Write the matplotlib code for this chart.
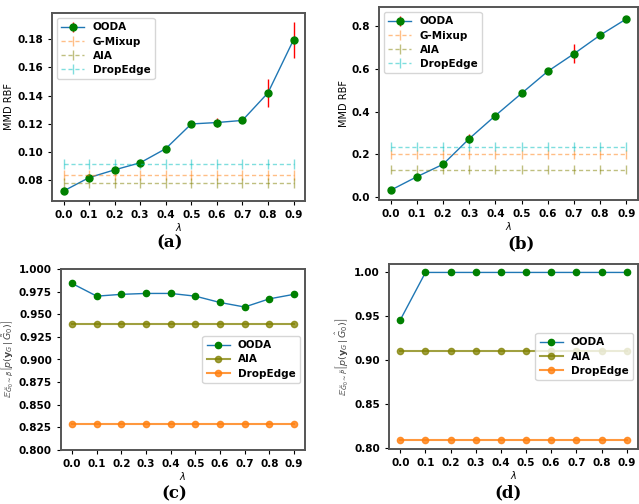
import numpy as np
import matplotlib as mpl
mpl.use('Agg')
from matplotlib import pyplot as plt

lam = [0.0, 0.1, 0.2, 0.3, 0.4, 0.5, 0.6, 0.7, 0.8, 0.9]

# (a) MMD RBF
ooda_a = [0.0725, 0.082, 0.0875, 0.0925, 0.1025, 0.120, 0.121, 0.1225, 0.142, 0.1795]
ooda_a_err = [0.001, 0.002, 0.001, 0.001, 0.002, 0.001, 0.003, 0.002, 0.010, 0.013]
gmix_a, aia_a, drop_a = 0.084, 0.078, 0.0915
base_a_err = 0.0035

# (b) MMD RBF
ooda_b = [0.032, 0.095, 0.153, 0.273, 0.381, 0.485, 0.588, 0.670, 0.757, 0.833]
ooda_b_err = [0.005, 0.005, 0.005, 0.02, 0.005, 0.005, 0.005, 0.045, 0.005, 0.015]
gmix_b, aia_b, drop_b = 0.200, 0.128, 0.235
base_b_err = 0.022

# (c) expected probability
ooda_c = [0.984, 0.970, 0.972, 0.973, 0.973, 0.970, 0.963, 0.958, 0.967, 0.972]
aia_c, drop_c = 0.939, 0.829

# (d) expected probability
ooda_d = [0.946, 1.0, 1.0, 1.0, 1.0, 1.0, 1.0, 1.0, 1.0, 1.0]
aia_d, drop_d = 0.911, 0.809

sz = 7.5
W, H = 639, 504
fig = plt.figure(figsize=(W/100, H/100), dpi=100)

def box(l, r, t, b):
    return [l/W, 1 - b/H, (r - l)/W, (b - t)/H]

def style(ax):
    for s in ax.spines.values():
        s.set_color('#555555')
        s.set_linewidth(1.4)
    ax.tick_params(labelsize=sz, length=3, width=0.8)
    ax.set_xticks(lam)
    for lb in ax.get_xticklabels():
        lb.set_fontweight('bold')
    ax.set_xlabel(r'$\lambda$', fontsize=7, labelpad=1)

def mmd_panel(ax, ooda, err, gm, aia, de, berr):
    n = len(lam)
    ax.errorbar(lam, ooda, yerr=err, color='C0', lw=1, marker='o', ms=5,
                mfc='green', mec='green', ecolor='red', elinewidth=1, label='OODA')
    ax.errorbar(lam, [gm]*n, yerr=[berr]*n, color='C1', ls='--', lw=1,
                dashes=(3, 2), alpha=0.5, label='G-Mixup')
    ax.errorbar(lam, [aia]*n, yerr=[berr]*n, color='olive', ls='--', lw=1,
                dashes=(3, 2), alpha=0.5, label='AIA')
    ax.errorbar(lam, [de]*n, yerr=[berr]*n, color='c', ls='--', lw=1,
                dashes=(3, 2), alpha=0.5, label='DropEdge')
    ax.set_ylabel('MMD RBF', fontsize=7, labelpad=2)
    ax.legend(loc='upper left', prop={'size': sz, 'weight': 'bold'},
              handlelength=2.2, borderpad=0.4, labelspacing=0.4)
    ax.set_xlim(-0.045, 0.945)
    style(ax)

def prob_panel(ax, ooda, aia, de):
    n = len(lam)
    ax.plot(lam, ooda, color='C0', lw=1, marker='o', ms=4.5,
            mfc='green', mec='green', label='OODA')
    ax.plot(lam, [aia]*n, color='olive', lw=1.5, marker='o', ms=4.5,
            alpha=0.75, label='AIA')
    ax.plot(lam, [de]*n, color='C1', lw=1.5, marker='o', ms=4.5,
            alpha=0.8, label='DropEdge')
    ax.legend(loc='center right', prop={'size': sz, 'weight': 'bold'},
              handlelength=2.2, borderpad=0.4, labelspacing=0.4)
    ax.set_xlim(-0.045, 0.945)
    style(ax)

ax1 = fig.add_axes(box(52, 305, 13, 201))
mmd_panel(ax1, ooda_a, ooda_a_err, gmix_a, aia_a, drop_a, base_a_err)
ax1.set_yticks([0.08, 0.10, 0.12, 0.14, 0.16, 0.18])
ax1.set_yticklabels(['0.08', '0.10', '0.12', '0.14', '0.16', '0.18'], fontweight='bold')

ax2 = fig.add_axes(box(379, 638, 7, 200))
mmd_panel(ax2, ooda_b, ooda_b_err, gmix_b, aia_b, drop_b, base_b_err)
ax2.set_yticks([0.0, 0.2, 0.4, 0.6, 0.8])
ax2.set_yticklabels(['0.0', '0.2', '0.4', '0.6', '0.8'], fontweight='bold')

ax3 = fig.add_axes(box(61, 305, 269, 450))
prob_panel(ax3, ooda_c, aia_c, drop_c)
ax3.set_ylim(0.8, 1.0)
yt = [0.8, 0.825, 0.85, 0.875, 0.9, 0.925, 0.95, 0.975, 1.0]
ax3.set_yticks(yt)
ax3.set_yticklabels(['%.3f' % v for v in yt], fontweight='bold')
ax3.set_ylabel(r'$\mathbb{E}_{\tilde{G}_0\sim\beta}\left[p(\mathbf{y}_G\,|\,\tilde{G}_0)\right]$',
               fontsize=6.8, color='#444444', labelpad=2)

ax4 = fig.add_axes(box(389, 638, 264, 449))
prob_panel(ax4, ooda_d, aia_d, drop_d)
ax4.set_ylim(0.799, 1.0096)
yt = [0.80, 0.85, 0.90, 0.95, 1.00]
ax4.set_yticks(yt)
ax4.set_yticklabels(['%.2f' % v for v in yt], fontweight='bold')
ax4.set_ylabel(r'$\mathbb{E}_{\tilde{G}_0\sim\tilde{P}}\left[p(\mathbf{y}_G\,|\,\hat{G}_0)\right]$',
               fontsize=6.8, color='#444444', labelpad=2)

cap = dict(fontsize=12, fontweight='bold', family='DejaVu Serif', ha='center', va='center')
fig.text(170/W, 1 - 243/H, '(a)', **cap)
fig.text(521/W, 1 - 244/H, '(b)', **cap)
fig.text(174/W, 1 - 494/H, '(c)', **cap)
fig.text(508/W, 1 - 493/H, '(d)', **cap)

plt.savefig('out.png', dpi=100)
plt.close()
